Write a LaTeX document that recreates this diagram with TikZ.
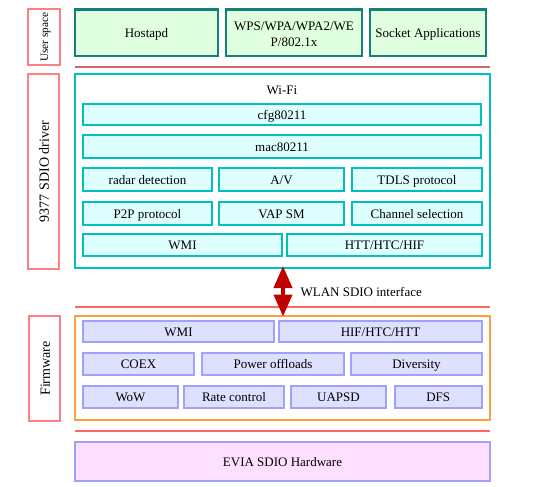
\documentclass[tikz,border=0pt]{standalone}
\usepackage{fontspec}
\setmainfont{Liberation Serif}
\usetikzlibrary{arrows.meta}
\definecolor{gborder}{HTML}{13807A}
\definecolor{gfill}{HTML}{DFFFDF}
\definecolor{teal2}{HTML}{00BFBF}
\definecolor{cfill}{HTML}{DFFFFF}
\definecolor{pborder}{HTML}{A0A0FF}
\definecolor{pfill}{HTML}{DFDFFF}
\definecolor{orng}{HTML}{FFA040}
\definecolor{lblred}{HTML}{FF8080}
\definecolor{sepred}{HTML}{FF6666}
\definecolor{sepdark}{HTML}{D06868}
\definecolor{arrred}{HTML}{C00000}
\definecolor{hwfill}{HTML}{FFDFFF}
\tikzset{
  txt/.style={font=\fontsize{13}{15}\selectfont, text height=10pt, text depth=0pt},
  box/.style={draw, inner sep=0pt, txt},
  gbox/.style={box, draw=gborder, fill=gfill, line width=2.5pt},
  cbox/.style={box, draw=teal2, fill=cfill, line width=2pt},
  pbox/.style={box, draw=pborder, fill=pfill, line width=2pt},
  outerbox/.style={draw, line width=2pt, inner sep=0pt},
  lblbox/.style={draw=lblred, line width=2.2pt, fill=white, inner sep=0pt},
  sep/.style={draw=sepred, line width=1.2pt},
  vlbl/.style={rotate=90, font=\fontsize{14}{15}\selectfont, text height=10.5pt, text depth=0pt, inner sep=0pt},
}
\newcommand{\bx}[6]{% style, name, x1, y1, x2, y2
  \node[#1, minimum width={#5-#3}, minimum height={#6-#4}] (#2) at ({(#3+#5)/2},{(#4+#6)/2})}
\begin{document}
\begin{tikzpicture}[x=1pt,y=-1pt]
\useasboundingbox (0,0) rectangle (536,487);
% user space
\bx{lblbox}{ulbl}{28}{9}{60}{65} {};
\node[vlbl, font=\fontsize{11.3}{12}\selectfont, text height=8.4pt] at (ulbl.center) {User space};
\bx{gbox}{hostapd}{75}{9.5}{218}{56} {Hostapd};
\bx{gbox}{wps}{226}{9.5}{362}{56} {};
\node[font=\fontsize{13}{15.5}\selectfont, align=center, inner sep=0pt] (wpstxt) at ([yshift=-1.5pt]wps.center) {WPS/WPA/WPA2/WE\\P/802.1x};
\bx{gbox}{sock}{370}{9.5}{486}{56} {Socket Applications};
\coordinate (s1a) at (75,67); \coordinate (s1b) at (490,67);
\draw[sep, draw=sepdark] (s1a) -- (s1b);
% driver
\bx{lblbox}{dlbl}{28}{74}{59}{269} {};
\node[vlbl] at (dlbl.center) {9377 SDIO driver};
\bx{outerbox, draw=teal2}{wifi}{75}{74}{490}{268} {};
\node[txt] (wifilbl) at (282,90) {Wi-Fi};
\bx{cbox}{cfg}{83}{104}{481}{125} {cfg80211};
\bx{cbox}{mac}{83}{135}{481}{157.5} {mac80211};
\bx{cbox}{radar}{83}{168}{212}{191} {radar detection};
\bx{cbox}{av}{219}{168}{344}{191} {A/V};
\bx{cbox}{tdls}{352}{168}{482}{191} {TDLS protocol};
\bx{cbox}{ptp}{83}{201.5}{212}{224.5} {P2P protocol};
\bx{cbox}{vap}{219}{201.5}{344}{224.5} {VAP SM};
\bx{cbox}{chan}{352}{201.5}{482}{224.5} {Channel selection};
\bx{cbox}{dwmi}{83}{233.5}{282}{256} {WMI};
\bx{cbox}{dhtt}{287}{233.5}{482}{256} {HTT/HTC/HIF};
% interface
\coordinate (s2a) at (75,307); \coordinate (s2b) at (490,307);
\draw[sep] (s2a) -- (s2b);
\node[anchor=west, txt] (wlan) at (297,291) {WLAN SDIO interface};
% firmware
\bx{lblbox}{flbl}{29}{316}{60}{421} {};
\node[vlbl] at (flbl.center) {Firmware};
\bx{outerbox, draw=orng}{fw}{75}{316}{490}{420} {};
\bx{pbox}{fwmi}{83}{320.5}{274}{342} {WMI};
\bx{pbox}{fhif}{279}{320.5}{482}{342} {HIF/HTC/HTT};
\bx{pbox}{coex}{83}{352.5}{194}{375} {COEX};
\bx{pbox}{power}{202}{352.5}{344}{375} {Power offloads};
\bx{pbox}{div}{351}{352.5}{482}{375} {Diversity};
\bx{pbox}{wow}{83}{385.5}{178}{408} {WoW};
\bx{pbox}{rate}{184}{385.5}{284}{408} {Rate control};
\bx{pbox}{uapsd}{291}{385.5}{386}{408} {UAPSD};
\bx{pbox}{dfs}{394.5}{385.5}{482}{408} {DFS};
\coordinate (s3a) at (75,431); \coordinate (s3b) at (490,431);
\draw[sep] (s3a) -- (s3b);
\bx{box, draw=pborder, fill=hwfill, line width=2pt}{hw}{75}{442}{490}{481} {EVIA SDIO Hardware};
% arrow
\draw[arrred, line width=4pt, {Triangle[width=18pt,length=22pt]}-{Triangle[width=18pt,length=22pt]}]
  ([yshift=3pt]wifi.south -| 283,0) -- ([yshift=-1.5pt]fw.north -| 283,0);
\end{tikzpicture}
\end{document}
